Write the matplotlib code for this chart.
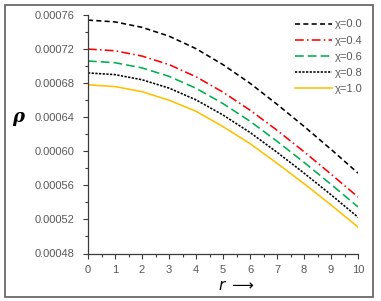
import matplotlib
matplotlib.use("Agg")
import matplotlib.pyplot as plt
from matplotlib.patches import Rectangle
from matplotlib.ticker import MultipleLocator, FormatStrFormatter

# radial coordinate and density curves for each chi
r = [0, 1, 2, 3, 4, 5, 6, 7, 8, 9, 10]
rho_chi00 = [0.000754, 0.0007519, 0.0007455, 0.0007352, 0.0007205, 0.0007017,
             0.0006799, 0.0006552, 0.0006293, 0.0006023, 0.0005744]
rho_chi04 = [0.000720, 0.000718, 0.0007118, 0.0007018, 0.0006875, 0.0006694,
             0.0006483, 0.0006247, 0.0005995, 0.0005732, 0.0005463]
rho_chi06 = [0.000706, 0.000704, 0.0006979, 0.000688, 0.000674, 0.000656,
             0.0006353, 0.0006118, 0.0005871, 0.0005612, 0.0005347]
rho_chi08 = [0.000692, 0.000690, 0.000684, 0.0006742, 0.0006604, 0.0006426,
             0.0006221, 0.0005989, 0.0005744, 0.000549, 0.0005226]
rho_chi10 = [0.000678, 0.000676, 0.000670, 0.000660, 0.000647, 0.000629,
             0.000609, 0.000586, 0.000562, 0.000537, 0.000511]
labels = ["χ=0.0", "χ=0.4", "χ=0.6", "χ=0.8", "χ=1.0"]

GRAY = "#595959"
plt.rcParams["font.family"] = ["Liberation Sans", "DejaVu Sans"]

fig = plt.figure(figsize=(3.81, 3.01), dpi=100)
fig.patches.append(Rectangle((4.5 / 381, 4.5 / 301), 368 / 381, 292 / 301,
                             transform=fig.transFigure, fill=False,
                             edgecolor="#6a6a6a", lw=1.3))
ax = fig.add_axes([88 / 381, 1 - 253.5 / 301, 270 / 381, 238.5 / 301])

lw = 1.15
ax.plot(r, rho_chi00, color="black", lw=lw, dashes=(3.2, 2.0), label=labels[0])
ax.plot(r, rho_chi04, color="#FF0000", lw=lw, dashes=(5.5, 2.0, 1.0, 2.0), label=labels[1])
ax.plot(r, rho_chi06, color="#00B050", lw=lw, dashes=(5.5, 2.5), label=labels[2])
ax.plot(r, rho_chi08, color="black", lw=lw, dashes=(1.4, 0.9), label=labels[3])
ax.plot(r, rho_chi10, color="#FFC000", lw=lw, label=labels[4])

ax.set_xlim(0, 10)
ax.set_ylim(0.00048, 0.00076)
ax.xaxis.set_major_locator(MultipleLocator(1))
ax.xaxis.set_minor_locator(MultipleLocator(0.5))
ax.yaxis.set_major_locator(MultipleLocator(0.00004))
ax.yaxis.set_minor_locator(MultipleLocator(0.00002))
ax.yaxis.set_major_formatter(FormatStrFormatter("%.5f"))

for s in ("top", "right"):
    ax.spines[s].set_visible(False)
for s in ("left", "bottom"):
    ax.spines[s].set_color("#3a3a3a")
    ax.spines[s].set_linewidth(0.9)
ax.tick_params(which="both", direction="out", colors="#3a3a3a", width=0.8,
               labelcolor=GRAY, labelsize=8)
ax.tick_params(which="major", length=3.5)
ax.tick_params(which="minor", length=2.5)
ax.tick_params(axis="y", pad=6)
ax.tick_params(axis="x", pad=5)

fig.text(18 / 381, 1 - 117 / 301, "ρ", fontsize=13, fontstyle="italic",
         fontweight="bold", family="DejaVu Serif", ha="center", va="center")
fig.text(236 / 381, 1 - 286 / 301, r"$r$ $\longrightarrow$", fontsize=11,
         ha="center", va="center")

leg = ax.legend(loc="upper right", frameon=False, fontsize=8, handlelength=3.3,
                handletextpad=0.3, labelspacing=0.55, borderaxespad=0.0,
                bbox_to_anchor=(1.035, 1.0))
for t in leg.get_texts():
    t.set_color(GRAY)

fig.savefig("out.png", dpi=100)
